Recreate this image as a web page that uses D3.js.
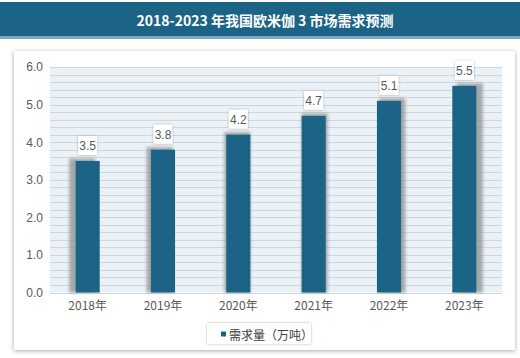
<!DOCTYPE html>
<html><head><meta charset="utf-8">
<script src="https://cdn.jsdelivr.net/npm/d3@7"></script>
<style>body{margin:0;background:#fff;}svg{display:block;}</style>
</head><body>
<script>
const title = "2018-2023 年我国欧米伽 3 市场需求预测";
const categories = ["2018年","2019年","2020年","2021年","2022年","2023年"];
const values = [3.5,3.8,4.2,4.7,5.1,5.5];
const seriesName = "需求量（万吨）";
const yTicks = [0,1,2,3,4,5,6];

const W=520,H=358;
const svg=d3.select("body").append("svg").attr("width",W).attr("height",H);
const defs=svg.append("defs");
const f1=defs.append("filter").attr("id","cardsh").attr("x","-10%").attr("y","-10%").attr("width","120%").attr("height","120%");
f1.append("feDropShadow").attr("dx",0).attr("dy",1).attr("stdDeviation",2.2).attr("flood-color","#000").attr("flood-opacity",0.35);
const f2=defs.append("filter").attr("id","blur").attr("x","-50%").attr("y","-50%").attr("width","200%").attr("height","200%");
f2.append("feGaussianBlur").attr("stdDeviation",1.5);
const f3=defs.append("filter").attr("id","lblsh").attr("x","-50%").attr("y","-50%").attr("width","200%").attr("height","200%");
f3.append("feDropShadow").attr("dx",0).attr("dy",0).attr("stdDeviation",1.2).attr("flood-color","#000").attr("flood-opacity",0.35);

// title bar
svg.append("rect").attr("x",0).attr("y",2).attr("width",W).attr("height",35).attr("fill","#1c6486");
svg.append("rect").attr("x",0).attr("y",36).attr("width",W).attr("height",3).attr("fill","#7ba9c6");
svg.append("text").attr("x",265).attr("y",22).attr("text-anchor","middle").attr("dominant-baseline","middle")
  .attr("fill","#fff").attr("font-family","'Noto Sans CJK SC', sans-serif").attr("font-weight","bold").attr("font-size",14).text(title);

// card
svg.append("rect").attr("x",14).attr("y",51).attr("width",501).attr("height",299).attr("fill","#fff").attr("filter","url(#cardsh)");

const m={l:50,r:502,t:67,b:292.5};
const x=d3.scaleBand().domain(categories).range([m.l,m.r]).paddingInner(0.68).paddingOuter(0.34);
const y=d3.scaleLinear().domain([0,6]).range([m.b,m.t]);

svg.append("rect").attr("x",m.l).attr("y",m.t).attr("width",m.r-m.l).attr("height",m.b-m.t).attr("fill","#eaf1f7");
const minor=d3.range(0,30).map(i=>i*0.2);
svg.append("g").selectAll("line").data(minor.concat([6])).join("line")
  .attr("x1",m.l).attr("x2",m.r).attr("y1",d=>Math.round(y(d))+0.5).attr("y2",d=>Math.round(y(d))+0.5)
  .attr("stroke","#d0d6dc").attr("stroke-width",1);

const yAxis=d3.axisLeft(y).tickValues(yTicks).tickFormat(d3.format(".1f")).tickSize(0).tickPadding(7);
const ga=svg.append("g").attr("transform",`translate(${m.l},0)`).call(yAxis);
ga.select(".domain").remove();
ga.selectAll("text").attr("fill","#595959").attr("font-size",12).attr("font-family","'Liberation Sans', Arial, sans-serif");

const xAxis=d3.axisBottom(x).tickSize(0).tickPadding(9);
const gx=svg.append("g").attr("transform",`translate(0,${m.b})`).call(xAxis);
gx.select(".domain").remove();
gx.selectAll("text").attr("fill","#595959").attr("font-size",12).attr("font-family","'Noto Sans CJK SC', sans-serif");

// bar shadows
const n=categories.length;
svg.append("g").selectAll("rect").data(values).join("rect")
  .attr("x",(d,i)=>x(categories[i])-1+(i-(n-1)/2)*2.2).attr("y",d=>y(d)-2.5)
  .attr("width",x.bandwidth()+2).attr("height",d=>m.b-y(d)+2.5)
  .attr("fill","#8a8a8a").attr("opacity",0.7).attr("filter","url(#blur)");
svg.append("g").selectAll("rect").data(values).join("rect")
  .attr("x",(d,i)=>x(categories[i])).attr("y",d=>y(d))
  .attr("width",x.bandwidth()).attr("height",d=>m.b-y(d)).attr("fill","#1b6486");

// labels
const lg=svg.append("g").selectAll("g").data(values).join("g")
  .attr("transform",(d,i)=>`translate(${x(categories[i])+x.bandwidth()/2},${y(d)-15.5})`);
lg.append("rect").attr("x",-9.5).attr("y",-9.5).attr("width",19).attr("height",19).attr("fill","#fff").attr("filter","url(#lblsh)");
lg.append("text").attr("text-anchor","middle").attr("dominant-baseline","central").attr("y",0.5)
  .attr("fill","#595959").attr("font-size",12).attr("font-family","'Liberation Sans', Arial, sans-serif").text(d=>d.toFixed(1));

// legend
const leg=svg.append("g");
leg.append("rect").attr("x",207).attr("y",323).attr("width",104).attr("height",21).attr("fill","#fff").attr("filter","url(#lblsh)").attr("opacity",0.9);
leg.append("rect").attr("x",221).attr("y",331.5).attr("width",5).attr("height",5).attr("fill","#1b6486");
leg.append("text").attr("x",229).attr("y",334).attr("dominant-baseline","central").attr("fill","#404040")
  .attr("font-size",12).attr("font-family","'Noto Sans CJK SC', sans-serif").text(seriesName);
</script>
</body></html>
